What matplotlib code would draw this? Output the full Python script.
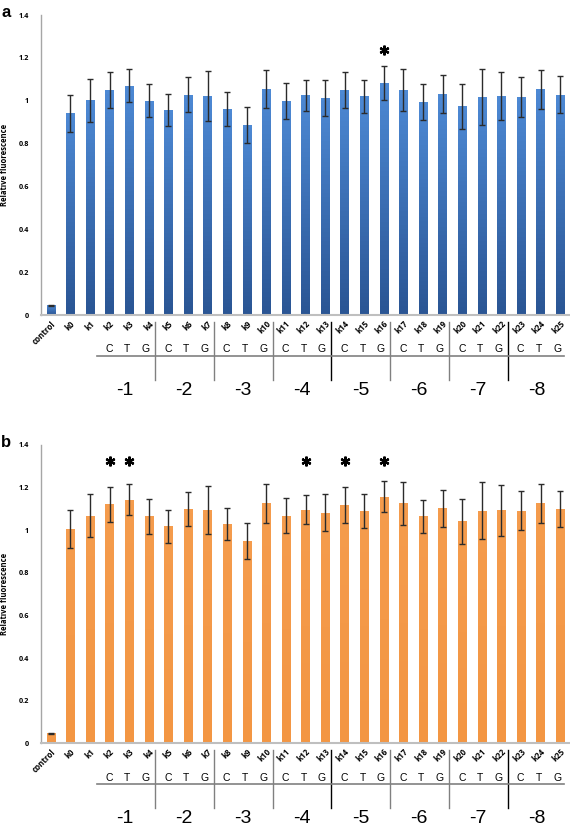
import numpy as np
import matplotlib
matplotlib.use("Agg")
import matplotlib.pyplot as plt
from matplotlib.colors import LinearSegmentedColormap
from matplotlib.transforms import blended_transform_factory

# categories
labels = ["control"] + ["k%d" % i for i in range(26)]
bases = ["C", "T", "G"]
positions = ["-1", "-2", "-3", "-4", "-5", "-6", "-7", "-8"]

# panel a (blue)
vals_a = [0.046, 0.941, 1.003, 1.050, 1.071, 1.000, 0.957, 1.028, 1.022, 0.961, 0.888,
          1.054, 1.000, 1.026, 1.014, 1.050, 1.022, 1.082, 1.051, 0.994, 1.031,
          0.974, 1.019, 1.022, 1.017, 1.053, 1.029]
err_a = [0.003, 0.088, 0.100, 0.086, 0.076, 0.078, 0.074, 0.082, 0.116, 0.080, 0.085,
         0.089, 0.085, 0.073, 0.085, 0.082, 0.077, 0.078, 0.099, 0.082, 0.087,
         0.104, 0.131, 0.114, 0.095, 0.090, 0.087]
sig_a = ["k16"]

# panel b (orange)
vals_b = [0.047, 1.007, 1.069, 1.121, 1.144, 1.066, 1.019, 1.101, 1.094, 1.029, 0.948,
          1.126, 1.068, 1.096, 1.083, 1.119, 1.091, 1.158, 1.126, 1.065, 1.102,
          1.041, 1.091, 1.093, 1.091, 1.126, 1.101]
err_b = [0.003, 0.089, 0.100, 0.084, 0.074, 0.082, 0.077, 0.079, 0.113, 0.075, 0.085,
         0.090, 0.081, 0.068, 0.088, 0.083, 0.080, 0.074, 0.100, 0.077, 0.088,
         0.107, 0.134, 0.118, 0.092, 0.090, 0.084]
sig_b = ["k2", "k3", "k12", "k14", "k16"]

W, H = 570, 826
fig = plt.figure(figsize=(W / 100, H / 100), dpi=100)

tick_font = "Open Sans"
cmap_blue = LinearSegmentedColormap.from_list("blue", ["#2a5594", "#4d89d4"])
cmap_orange = LinearSegmentedColormap.from_list("orange", ["#f39643", "#f59c4d"])


def panel(top_px, bottom_px, vals, errs, sig, star_y, cmap, letter):
    ax = fig.add_axes([41 / W, 1 - bottom_px / H, 1 - 41 / W, (bottom_px - top_px) / H])
    x = np.arange(len(labels))
    bars = ax.bar(x, vals, width=0.43, color=cmap(0.5), zorder=2)
    # vertical gradient inside every bar
    for b in bars:
        x0 = b.get_x()
        grad = np.linspace(1, 0, 50).reshape(-1, 1)
        im = ax.imshow(grad, extent=(x0, x0 + b.get_width(), 0, b.get_height()),
                       cmap=cmap, aspect="auto", zorder=2.5, vmin=0, vmax=1)
        im.set_clip_path(b)
    ax.errorbar(x, vals, yerr=errs, fmt="none", ecolor="#2b2b2b", elinewidth=1.0,
                capsize=2.2, capthick=1.0, zorder=3)
    sx = [labels.index(s) for s in sig]
    ax.plot(sx, [star_y] * len(sx), linestyle="none", marker=(6, 2, 0), ms=7,
            mew=1.6, color="black", zorder=4)
    ax.set_xlim(-0.5, 26.5)
    ax.set_ylim(0, 1.4)
    ax.set_yticks([0, 0.2, 0.4, 0.6, 0.8, 1.0, 1.2, 1.4])
    ax.set_yticklabels(["0", "0.2", "0.4", "0.6", "0.8", "1", "1.2", "1.4"],
                       fontsize=5.2, fontweight="bold", family=tick_font)
    ax.set_xticks(x)
    ax.set_xticklabels(labels, rotation=45, ha="right", va="top",
                       rotation_mode="anchor", fontsize=5.8, fontweight="bold",
                       family=tick_font)
    ax.tick_params(axis="both", length=0)
    ax.tick_params(axis="y", pad=8.5)
    ax.tick_params(axis="x", pad=3)
    for s in ["top", "right"]:
        ax.spines[s].set_visible(False)
    ax.spines["left"].set_color("#a6a6a6")
    ax.spines["bottom"].set_color("#bfbfbf")
    ax.spines["left"].set_linewidth(1.0)
    ax.spines["bottom"].set_linewidth(1.5)
    ax.set_ylabel("Relative fluorescence", fontsize=5.5, fontweight="bold",
                  family=tick_font, labelpad=7)

    fig.text(1 / W, 1 - (top_px - 10) / H, letter, fontsize=12, fontweight="bold",
             family="Liberation Sans", va="top", ha="left")

    # annotation rows under the axis: bases, group lines, positions
    tr = blended_transform_factory(ax.transData, fig.transFigure)
    yb = lambda d: 1 - (bottom_px + d) / H
    for g, pos in enumerate(positions):
        first = 3 + 3 * g
        for j, base in enumerate(bases):
            ax.text(first + j * 0.93 - 0.02, yb(34.5), base, transform=tr,
                    ha="center", va="center", fontsize=7.5, family="Liberation Sans")
        ax.text(first + 0.8, yb(75), pos, transform=tr, ha="center", va="center",
                fontsize=14, family="Liberation Sans")
        if g > 0:
            sep = first - 0.68
            col = "black" if g in (4, 7) else "#808080"
            ax.plot([sep, sep], [yb(6.5), yb(64.5)], transform=tr, color=col,
                    lw=1.0, clip_on=False)
    ax.plot([2.35, 26.2], [yb(40.7), yb(40.7)], transform=tr, color="#808080",
            lw=1.2, clip_on=False)
    return ax


panel(15, 315, vals_a, err_a, sig_a, 1.236, cmap_blue, "a")
panel(445, 743.3, vals_b, err_b, sig_b, 1.324, cmap_orange, "b")

fig.savefig("out.png", dpi=100)
